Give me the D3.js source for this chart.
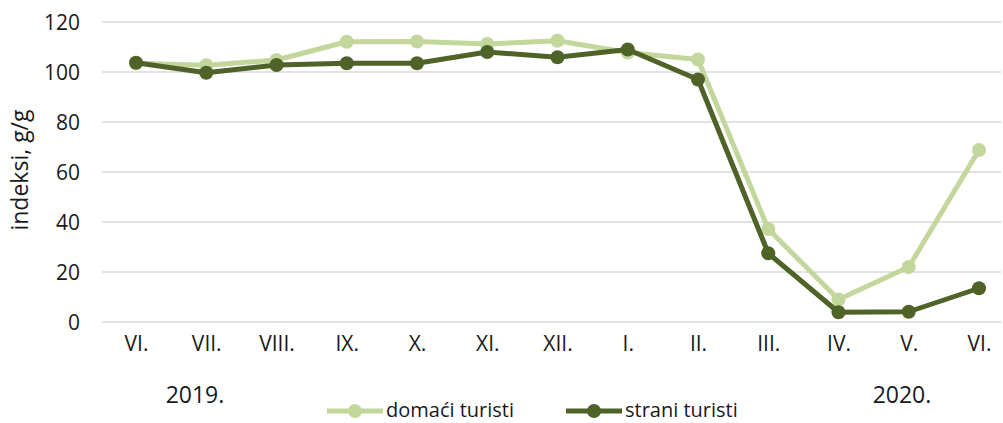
<!DOCTYPE html>
<html>
<head>
<meta charset="utf-8">
<script src="https://cdnjs.cloudflare.com/ajax/libs/d3/7.8.5/d3.min.js"></script>
<style>
  body { margin: 0; background: #fff; }
  svg text { font-family: "Open Sans", Lato, sans-serif; fill: #1a1a1a; }
</style>
</head>
<body>
<div id="chart"></div>
<script>
// podaci
var months = ["VI.", "VII.", "VIII.", "IX.", "X.", "XI.", "XII.", "I.", "II.", "III.", "IV.", "V.", "VI.2"];
var domaci = [103.5, 102.7, 104.8, 112.1, 112.2, 111.2, 112.5, 107.8, 105, 37.2, 9, 22, 68.8];
var strani = [103.7, 99.7, 102.8, 103.5, 103.5, 108, 105.9, 109, 97, 27.5, 3.9, 4.1, 13.5];
var yTicks = [0, 20, 40, 60, 80, 100, 120];
var years = ["2019.", "2020."];
var seriesNames = ["domaći turisti", "strani turisti"];

var W = 1003, H = 423;
var lightCol = "#C3D69B", darkCol = "#4F6228";

var svg = d3.select("#chart").append("svg")
  .attr("width", W).attr("height", H);

var x = d3.scalePoint().domain(months).range([136, 979]);
var y = d3.scaleLinear().domain([0, 120]).range([322, 22]);

// mreža
svg.append("g")
  .selectAll("line")
  .data(yTicks)
  .enter().append("line")
    .attr("x1", 102).attr("x2", 1001)
    .attr("y1", d => y(d)).attr("y2", d => y(d))
    .attr("stroke", "#D9D9D9").attr("stroke-width", 1.5);

// y os
var yAxis = svg.append("g")
  .attr("transform", "translate(80,0)")
  .call(d3.axisLeft(y).tickValues(yTicks).tickSize(0).tickPadding(0));
yAxis.select(".domain").remove();
yAxis.selectAll("text").attr("font-size", 21).attr("dy", "0.35em")
  .style("font-family", "'Open Sans', sans-serif");

// x os
var xAxis = svg.append("g")
  .attr("transform", "translate(0,336)")
  .call(d3.axisBottom(x).tickSize(0).tickPadding(0).tickFormat(d => d.replace("2", "")));
xAxis.select(".domain").remove();
xAxis.selectAll("text").attr("font-size", 21).attr("dy", "0.71em")
  .style("font-family", "'Open Sans', sans-serif");

// godine
svg.selectAll("text.year")
  .data(years)
  .enter().append("text")
    .attr("class", "year")
    .attr("x", (d, i) => i === 0 ? 195 : 902)
    .attr("y", 403)
    .attr("text-anchor", "middle")
    .attr("font-size", 23)
    .text(d => d);

// naslov y osi
svg.append("text")
  .attr("transform", "translate(28,170) rotate(-90)")
  .attr("text-anchor", "middle")
  .attr("font-size", 23)
  .text("indeksi, g/g");

var line = d3.line().x((d, i) => x(months[i])).y(d => y(d));

function drawSeries(vals, col) {
  svg.append("path")
    .datum(vals)
    .attr("fill", "none")
    .attr("stroke", col)
    .attr("stroke-width", 5)
    .attr("stroke-linejoin", "round")
    .attr("d", line);
  svg.append("g")
    .selectAll("circle")
    .data(vals)
    .enter().append("circle")
      .attr("cx", (d, i) => x(months[i]))
      .attr("cy", d => y(d))
      .attr("r", 7)
      .attr("fill", col);
}
drawSeries(domaci, lightCol);
drawSeries(strani, darkCol);

// legenda
var legend = svg.append("g");
var lg = [{ n: seriesNames[0], c: lightCol, x: 327 }, { n: seriesNames[1], c: darkCol, x: 566 }];
lg.forEach(function(l) {
  legend.append("line")
    .attr("x1", l.x).attr("x2", l.x + 56)
    .attr("y1", 411).attr("y2", 411)
    .attr("stroke", l.c).attr("stroke-width", 5);
  legend.append("circle")
    .attr("cx", l.x + 28).attr("cy", 411).attr("r", 7).attr("fill", l.c);
  legend.append("text")
    .attr("x", l.x + 59).attr("y", 417)
    .attr("font-size", 20)
    .text(l.n);
});
</script>
</body>
</html>
